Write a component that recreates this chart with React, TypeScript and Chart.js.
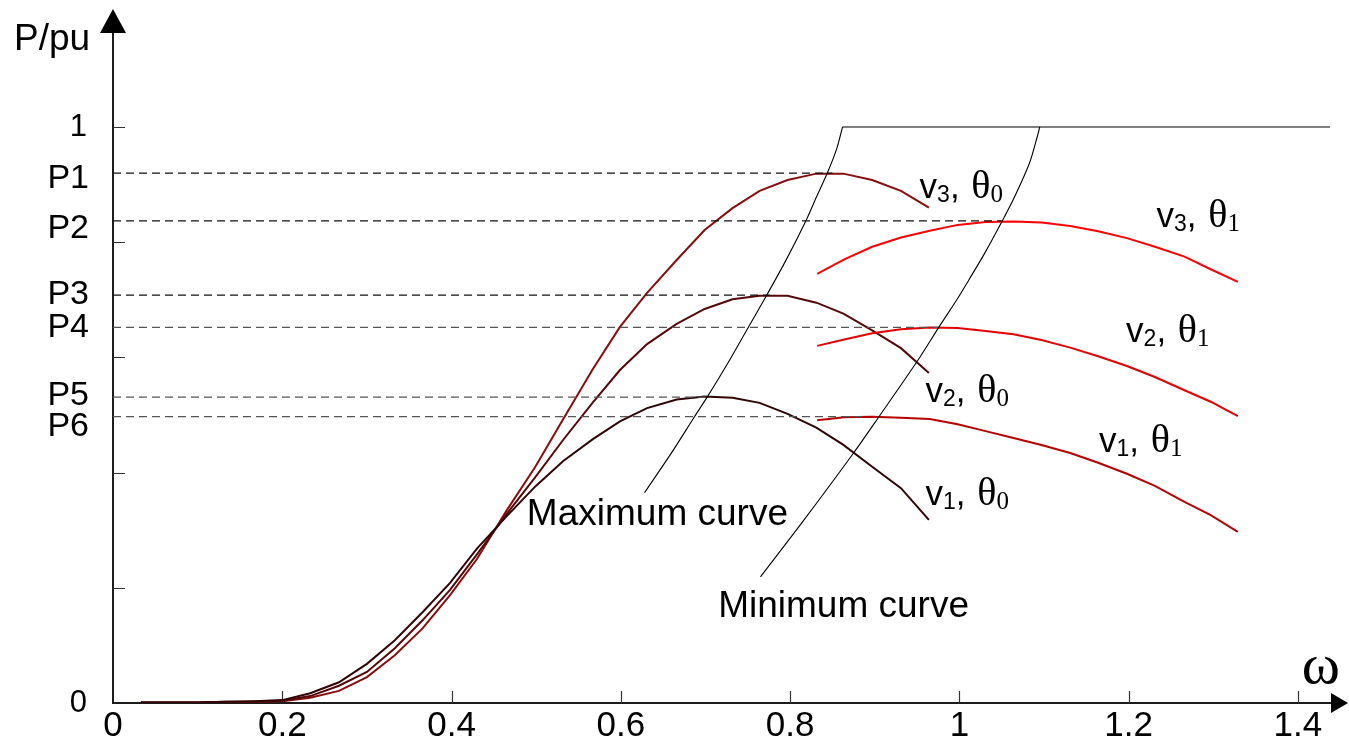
import React, { useEffect, useRef } from "react";
import { Chart, registerables } from "chart.js";

Chart.register(...registerables);

// ---------- axes ----------
const X_MAX = 1.458;
const Y_MAX = 1.21;
const Y_ARROW_TIP = 1.205;
const X_TICKS = [0, 0.2, 0.4, 0.6, 0.8, 1, 1.2, 1.4];
const X_TICK_LABELS = ["0", "0.2", "0.4", "0.6", "0.8", "1", "1.2", "1.4"];
const Y_TICK_MARKS = [0.2, 0.4, 0.6, 0.8, 1];
const Y_END_VALUES = [0, 1];
const Y_END_LABELS = ["0", "1"];

// ---------- power levels ----------
const P_NAMES = ["P1", "P2", "P3", "P4", "P5", "P6"];
const P_LEVELS = [0.92, 0.837, 0.708, 0.652, 0.531, 0.497];
const P_DASH_END = [0.85, 1.05, 0.776, 0.975, 0.702, 0.89];

// ---------- theta0 curves ----------
const OMEGA_T0 = [0.033, 0.067, 0.1, 0.133, 0.167, 0.2, 0.233, 0.267, 0.3, 0.333, 0.366, 0.398, 0.43, 0.465, 0.499, 0.532, 0.567, 0.599, 0.631, 0.666, 0.699, 0.732, 0.764, 0.797, 0.831, 0.863, 0.897, 0.931, 0.964];
const V3_T0 = [0.001, 0.001, 0.001, 0.001, 0.002, 0.003, 0.009, 0.021, 0.045, 0.083, 0.13, 0.187, 0.25, 0.334, 0.41, 0.493, 0.58, 0.653, 0.712, 0.769, 0.821, 0.859, 0.889, 0.908, 0.919, 0.919, 0.908, 0.889, 0.86];
const V2_T0 = [0.001, 0.001, 0.001, 0.002, 0.002, 0.004, 0.012, 0.03, 0.054, 0.095, 0.144, 0.196, 0.258, 0.328, 0.392, 0.457, 0.522, 0.578, 0.623, 0.658, 0.684, 0.701, 0.707, 0.707, 0.695, 0.676, 0.647, 0.616, 0.573];
const V1_T0 = [0.001, 0.001, 0.001, 0.002, 0.003, 0.005, 0.017, 0.036, 0.068, 0.109, 0.158, 0.208, 0.268, 0.324, 0.376, 0.42, 0.458, 0.489, 0.512, 0.527, 0.532, 0.53, 0.521, 0.502, 0.478, 0.448, 0.41, 0.373, 0.318];

// ---------- theta1 curves ----------
const OMEGA_T1 = [0.832, 0.864, 0.897, 0.931, 0.965, 0.998, 1.031, 1.064, 1.097, 1.131, 1.164, 1.198, 1.231, 1.266, 1.297, 1.329];
const V3_T1 = [0.745, 0.77, 0.792, 0.808, 0.82, 0.83, 0.835, 0.836, 0.834, 0.828, 0.819, 0.807, 0.792, 0.775, 0.753, 0.731];
const V2_T1 = [0.62, 0.631, 0.642, 0.649, 0.652, 0.651, 0.646, 0.64, 0.63, 0.617, 0.602, 0.585, 0.566, 0.543, 0.523, 0.498];
const V1_T1 = [0.491, 0.496, 0.497, 0.495, 0.493, 0.484, 0.472, 0.46, 0.448, 0.434, 0.417, 0.398, 0.377, 0.349, 0.326, 0.297];

// ---------- envelope curves ----------
const MAX_OMEGA = [0.628, 0.662, 0.687, 0.702, 0.726, 0.749, 0.772, 0.796, 0.818, 0.831, 0.844, 0.855, 0.862];
const MAX_P = [0.365, 0.439, 0.497, 0.531, 0.589, 0.648, 0.707, 0.771, 0.835, 0.878, 0.92, 0.962, 1.0];
const MIN_OMEGA = [0.765, 0.814, 0.875, 0.905, 0.951, 0.976, 0.997, 1.011, 1.03, 1.05, 1.065, 1.083, 1.092, 1.095];
const MIN_P = [0.219, 0.313, 0.434, 0.497, 0.595, 0.653, 0.7, 0.734, 0.781, 0.835, 0.878, 0.938, 0.983, 1.0];
const RATED_OMEGA = [0.862, 1.438];
const RATED_P = [1, 1];

// ---------- text annotations ----------
const CURVE_LABELS = [
  { v: "3", th: "0", x: 0.953, y: 0.877 },
  { v: "3", th: "1", x: 1.233, y: 0.826 },
  { v: "2", th: "1", x: 1.197, y: 0.627 },
  { v: "2", th: "0", x: 0.96, y: 0.523 },
  { v: "1", th: "1", x: 1.165, y: 0.436 },
  { v: "1", th: "0", x: 0.96, y: 0.344 },
];
const NOTE_LABELS = [
  { text: "Maximum curve", x: 0.489, y: 0.309 },
  { text: "Minimum curve", x: 0.715, y: 0.149 },
];
const AXIS_NAME_X = { text: "\u03c9", x: 1.427, y: 0.062 };
const AXIS_NAME_Y = { text: "P/pu", x: -0.117, y: 1.133 };
const P_LABEL_NUDGE = [6, 8, -1, 0, -2, 10];

const SANS = '"Liberation Sans", Arial, sans-serif';
const SERIF = '"Liberation Serif", "Times New Roman", serif';

const pts = (xs: number[], ys: number[]) => xs.map((x, i) => ({ x, y: ys[i] }));

const decorPlugin = {
  id: "decor",
  beforeDatasetsDraw(chart: any) {
    const { ctx, scales } = chart;
    const xs = scales.x;
    const ys = scales.y;
    const ox = xs.getPixelForValue(0);
    const oy = ys.getPixelForValue(0);
    const yTip = ys.getPixelForValue(Y_ARROW_TIP);
    const xTip = xs.getPixelForValue(X_MAX) + 1;
    ctx.save();
    ctx.strokeStyle = "#1c1c1c";
    ctx.fillStyle = "#000";
    ctx.lineWidth = 2;
    ctx.beginPath();
    ctx.moveTo(ox, oy + 1);
    ctx.lineTo(ox, yTip + 20);
    ctx.moveTo(ox - 1, oy);
    ctx.lineTo(xTip - 14, oy);
    ctx.stroke();
    ctx.beginPath();
    ctx.moveTo(ox, yTip);
    ctx.lineTo(ox - 13, yTip + 24);
    ctx.lineTo(ox + 13, yTip + 24);
    ctx.closePath();
    ctx.fill();
    ctx.beginPath();
    ctx.moveTo(xTip, oy);
    ctx.lineTo(xTip - 17, oy - 10);
    ctx.lineTo(xTip - 17, oy + 10);
    ctx.closePath();
    ctx.fill();
    ctx.lineWidth = 1.2;
    ctx.strokeStyle = "#333";
    ctx.beginPath();
    for (const v of Y_TICK_MARKS) {
      const py = Math.round(ys.getPixelForValue(v)) + 0.5;
      ctx.moveTo(ox, py);
      ctx.lineTo(ox + 12, py);
    }
    for (const v of X_TICKS.slice(1)) {
      const px = Math.round(xs.getPixelForValue(v)) + 0.5;
      ctx.moveTo(px, oy);
      ctx.lineTo(px, oy - 12);
    }
    ctx.stroke();
    ctx.restore();
  },
  afterDraw(chart: any) {
    const { ctx, scales } = chart;
    const xs = scales.x;
    const ys = scales.y;
    const labelRight = xs.getPixelForValue(0) - 24;
    ctx.save();
    ctx.fillStyle = "#000";
    ctx.textBaseline = "middle";
    ctx.textAlign = "right";
    ctx.font = `34px ${SANS}`;
    P_NAMES.forEach((name, i) => {
      ctx.fillText(name, labelRight, ys.getPixelForValue(P_LEVELS[i]) + P_LABEL_NUDGE[i]);
    });
    ctx.font = `31px ${SANS}`;
    Y_END_LABELS.forEach((t, i) => {
      ctx.fillText(t, labelRight - 2, ys.getPixelForValue(Y_END_VALUES[i]));
    });
    // axis names
    ctx.textAlign = "left";
    ctx.textBaseline = "alphabetic";
    ctx.font = `37px ${SANS}`;
    ctx.fillText(AXIS_NAME_Y.text, xs.getPixelForValue(AXIS_NAME_Y.x), ys.getPixelForValue(AXIS_NAME_Y.y));
    ctx.textAlign = "center";
    ctx.textBaseline = "middle";
    ctx.font = `58px ${SERIF}`;
    ctx.fillText(AXIS_NAME_X.text, xs.getPixelForValue(AXIS_NAME_X.x), ys.getPixelForValue(AXIS_NAME_X.y));
    // notes
    ctx.textAlign = "left";
    ctx.textBaseline = "alphabetic";
    ctx.font = `37px ${SANS}`;
    NOTE_LABELS.forEach((n) => {
      ctx.fillText(n.text, xs.getPixelForValue(n.x), ys.getPixelForValue(n.y));
    });
    // curve labels "v_i, theta_j"
    CURVE_LABELS.forEach((c) => {
      let cx = xs.getPixelForValue(c.x);
      const by = ys.getPixelForValue(c.y);
      const put = (t: string, font: string, dy: number) => {
        ctx.font = font;
        ctx.fillText(t, cx, by + dy);
        cx += ctx.measureText(t).width;
      };
      put("v", `35px ${SANS}`, 0);
      put(c.v, `23px ${SANS}`, 4);
      put(", ", `35px ${SANS}`, 0);
      cx += 2;
      put("\u03b8", `40px ${SERIF}`, 0);
      put(c.th, `25px ${SERIF}`, 4);
    });
    ctx.restore();
  },
};

export default function App() {
  const ref = useRef<HTMLCanvasElement | null>(null);
  useEffect(() => {
    document.body.style.margin = "0";
    document.body.style.overflow = "hidden";
    const canvas = ref.current;
    if (!canvas) return;
    const dashColor = ["#111", "#111", "#111", "#555", "#555", "#555"];
    const datasets: any[] = [];
    P_LEVELS.forEach((p, i) => {
      datasets.push({
        label: P_NAMES[i],
        data: pts([0, P_DASH_END[i]], [p, p]),
        borderColor: dashColor[i],
        borderWidth: 1.2,
        borderDash: [8, 5],
        pointRadius: 0,
      });
    });
    const thin = (label: string, xsArr: number[], ysArr: number[], tension: number) => ({
      label,
      data: pts(xsArr, ysArr),
      borderColor: "#000",
      borderWidth: 1.1,
      pointRadius: 0,
      tension,
    });
    datasets.push(thin("Rated", RATED_OMEGA, RATED_P, 0));
    datasets.push(thin("Maximum curve", MAX_OMEGA, MAX_P, 0.3));
    datasets.push(thin("Minimum curve", MIN_OMEGA, MIN_P, 0.3));
    const curve = (label: string, xsArr: number[], ysArr: number[], color: string) => ({
      label,
      data: pts(xsArr, ysArr),
      borderColor: color,
      borderWidth: 2,
      pointRadius: 0,
      tension: 0,
    });
    datasets.push(curve("v1 theta1", OMEGA_T1, V1_T1, "#b80000"));
    datasets.push(curve("v2 theta1", OMEGA_T1, V2_T1, "#e30000"));
    datasets.push(curve("v3 theta1", OMEGA_T1, V3_T1, "#ff0000"));
    datasets.push(curve("v1 theta0", OMEGA_T0, V1_T0, "#300505"));
    datasets.push(curve("v2 theta0", OMEGA_T0, V2_T0, "#560808"));
    datasets.push(curve("v3 theta0", OMEGA_T0, V3_T0, "#860e0e"));

    const chart = new Chart(canvas, {
      type: "line",
      data: { datasets },
      options: {
        animation: false,
        responsive: false,
        maintainAspectRatio: false,
        devicePixelRatio: 1,
        layout: { padding: { left: 0, right: 2, top: 6, bottom: 0 } },
        plugins: { legend: { display: false }, tooltip: { enabled: false } },
        scales: {
          x: {
            type: "linear",
            min: 0,
            max: X_MAX,
            grid: { display: false, drawTicks: false },
            border: { display: false },
            afterFit: (s: any) => {
              s.height = 39;
            },
            afterBuildTicks: (s: any) => {
              s.ticks = X_TICKS.map((v) => ({ value: v }));
            },
            ticks: {
              autoSkip: false,
              maxRotation: 0,
              minRotation: 0,
              padding: 2,
              color: "#000",
              font: { family: SANS, size: 35 },
              callback: (_v: any, i: number) => X_TICK_LABELS[i],
            },
          },
          y: {
            type: "linear",
            min: 0,
            max: Y_MAX,
            grid: { display: false, drawTicks: false },
            border: { display: false },
            ticks: { display: false },
            afterFit: (s: any) => {
              s.width = 113;
            },
          },
        },
      },
      plugins: [decorPlugin],
    } as any);
    return () => chart.destroy();
  }, []);
  return <canvas ref={ref} width={1349} height={742} style={{ display: "block" }} />;
}
